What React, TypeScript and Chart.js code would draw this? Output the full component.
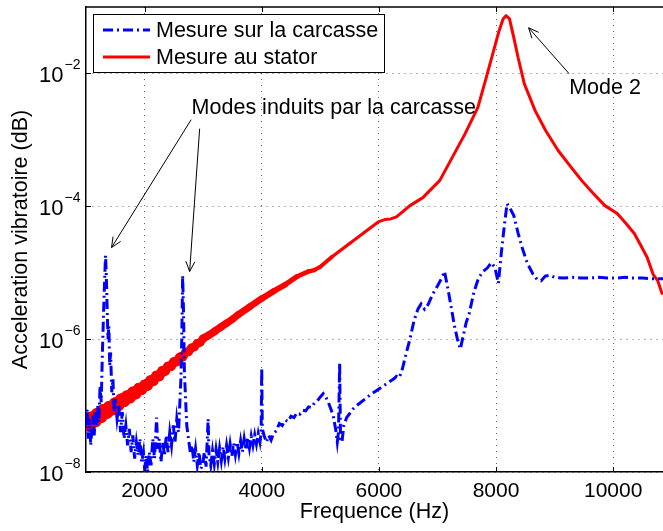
import React, { useEffect, useRef } from "react";
import { Chart, registerables } from "chart.js";

Chart.register(...registerables);

const FONT = "'Liberation Sans', Arial, Helvetica, sans-serif";

// ---- Data (values stored as log10 of the acceleration) ----
const statorFreq = [
  1000, 1050, 1100, 1150, 1200, 1250, 1300, 1350, 1400, 1450, 1500, 1550, 1600, 1650, 1700, 1750, 1800, 1850,
  1900, 1950, 2000, 2050, 2100, 2150, 2200, 2250, 2300, 2350, 2400, 2450, 2500, 2550, 2600, 2650, 2700, 2750,
  2800, 2850, 2900, 2950, 3000, 3100, 3200, 3300, 3400, 3500, 3600, 3800, 4000, 4200, 4400, 4600,
  4800, 4900, 5000, 5200, 5500, 5800, 6000, 6100, 6200, 6300, 6530, 6750, 7040, 7255, 7470, 7690, 7830, 7942,
  8051, 8120, 8170, 8230, 8303, 8376, 8484, 8667, 8846, 9060, 9280, 9460, 9641, 9858, 10068, 10219, 10360,
  10472, 10580, 10684, 10760, 10832,
];
const statorLog = [
  -7.26, -7.28, -7.2, -7.22, -7.14, -7.16, -7.08, -7.1, -7.03, -7.05, -6.97, -6.99, -6.91, -6.93, -6.86, -6.88,
  -6.8, -6.82, -6.74, -6.76, -6.69, -6.7, -6.62, -6.63, -6.55, -6.56, -6.48, -6.48, -6.41, -6.41, -6.34, -6.34,
  -6.27, -6.27, -6.2, -6.19, -6.13, -6.12, -6.06, -6.05, -5.99, -5.94, -5.88, -5.82, -5.76, -5.7,
  -5.63, -5.51, -5.39, -5.28, -5.18, -5.06, -4.98, -4.96, -4.91, -4.76, -4.56, -4.36, -4.23, -4.2, -4.19, -4.16,
  -3.99, -3.87, -3.61, -3.26, -2.91, -2.51, -2.07, -1.71, -1.36, -1.18, -1.13, -1.18, -1.46, -1.76, -2.16, -2.56,
  -2.86, -3.16, -3.41, -3.61, -3.79, -3.99, -4.11, -4.26, -4.41, -4.59, -4.77, -5.03, -5.12, -5.31,
];

const carcasseFreq = [
  1000, 1020, 1040, 1060, 1080, 1100, 1120, 1140, 1160, 1180, 1200, 1220, 1240, 1260, 1280, 1300, 1315, 1333,
  1345, 1360, 1375, 1390, 1405, 1420, 1440, 1460, 1480, 1500, 1530, 1560, 1590, 1620, 1650, 1680, 1710, 1740,
  1770, 1800, 1830, 1860, 1890, 1920, 1950, 1980, 2000, 2030, 2050, 2080, 2110, 2140, 2170, 2205, 2225, 2250,
  2280, 2310, 2340, 2370, 2400, 2430, 2460, 2490, 2520, 2550, 2580, 2600, 2620, 2635, 2650, 2665, 2680, 2700,
  2720, 2750, 2780, 2810, 2840, 2870, 2900, 2930, 2960, 2990, 3020, 3050, 3085, 3100, 3130, 3160, 3190, 3220,
  3250, 3280, 3310, 3340, 3370, 3400, 3430, 3460, 3490, 3520, 3550, 3580, 3610, 3640, 3670, 3700, 3730, 3760,
  3790, 3820, 3850, 3880, 3910, 3940, 3970, 3990, 4000, 4010, 4040, 4080, 4120, 4160, 4200, 4250, 4300, 4350,
  4400, 4450, 4500, 4550, 4600, 4650, 4700, 4750, 4800, 4850, 4900, 4950, 5000, 5050, 5100, 5150, 5220, 5270,
  5290, 5310, 5330, 5345, 5370, 5400, 5450, 5500, 5560, 5650, 5750, 5850, 5950, 6050, 6150, 6250, 6300, 6350,
  6400, 6470, 6530, 6600, 6670, 6720, 6780, 6840, 6920, 7000, 7060, 7120, 7180, 7230, 7290, 7340, 7390, 7440,
  7490, 7540, 7620, 7700, 7780, 7850, 7920, 7980, 8040, 8090, 8140, 8188, 8250, 8303, 8375, 8445, 8530, 8629,
  8700, 8770, 8840, 8918, 9000, 9150, 9300, 9450, 9600, 9750, 9900, 10050, 10200, 10350, 10500, 10650, 10850,
];
const carcasseLog = [
  -7.3, -7.05, -7.5, -7.2, -7.6, -7.35, -7.15, -7.45, -7.1, -7.3, -7.0, -7.25, -6.7, -6.95, -6.2, -5.6, -5.2, -4.74,
  -5.0, -5.5, -6.0, -5.8, -6.4, -6.2, -6.8, -6.6, -7.1, -6.9, -7.2, -7.0, -7.4, -7.1, -7.5, -7.3, -7.6, -7.35,
  -7.7, -7.45, -7.8, -7.55, -7.75, -7.5, -7.85, -7.7, -7.95, -7.75, -8.0, -7.7, -7.9, -7.5, -7.8, -7.18, -7.65, -7.5,
  -7.85, -7.55, -7.75, -7.45, -7.7, -7.4, -7.6, -7.3, -7.55, -7.2, -7.4, -7.0, -6.6, -6.0, -5.04, -5.6, -6.5, -6.9,
  -7.3, -7.5, -7.7, -7.6, -7.85, -7.65, -7.9, -7.7, -7.95, -7.9, -7.7, -7.92, -7.2, -7.75, -7.9, -7.68, -7.88, -7.66,
  -7.85, -7.64, -7.83, -7.62, -7.8, -7.6, -7.78, -7.58, -7.76, -7.56, -7.74, -7.55, -7.72, -7.53, -7.7, -7.5, -7.67, -7.48,
  -7.64, -7.46, -7.6, -7.44, -7.58, -7.42, -7.55, -7.4, -6.43, -7.35, -7.45, -7.55, -7.45, -7.52, -7.42, -7.38, -7.27, -7.3,
  -7.22, -7.24, -7.16, -7.18, -7.11, -7.13, -7.07, -7.08, -7.02, -7.03, -6.96, -6.93, -6.87, -6.82, -6.88, -6.98, -7.15, -7.4,
  -7.55, -7.4, -6.36, -7.5, -7.55, -7.3, -7.18, -7.12, -7.05, -6.98, -6.91, -6.84, -6.78, -6.72, -6.66, -6.6, -6.56, -6.58,
  -6.45, -6.2, -6.0, -5.72, -5.54, -5.47, -5.55, -5.48, -5.32, -5.2, -5.1, -4.98, -5.25, -5.5, -5.8, -6.0, -6.15, -5.95,
  -5.75, -5.62, -5.3, -5.08, -4.98, -4.93, -4.85, -4.92, -5.16, -4.7, -4.3, -3.96, -4.05, -4.14, -4.4, -4.62, -4.85, -5.02,
  -5.1, -5.12, -5.05, -5.04, -5.07, -5.08, -5.07, -5.08, -5.08, -5.07, -5.08, -5.08, -5.07, -5.08, -5.08, -5.09, -5.09,
];

const seriesNames = ["Mesure sur la carcasse", "Mesure au stator"];
const seriesColors = ["#0000ff", "#ff0000"];
const xTicks = [2000, 4000, 6000, 8000, 10000];
const yTicks = [1e-8, 1e-6, 1e-4, 1e-2];
const yTickExponents = ["\u22128", "\u22126", "\u22124", "\u22122"];
const xRange = [1000, 10850];
const yRange = [1e-8, 1e-1];
const xTitle = "Frequence (Hz)";
const yTitle = "Acceleration vibratoire (dB)";

// noisy-band thickness of the stator trace (style): frequency -> stroke width
const statorBandFreq = [1000, 2000, 3000, 4000, 5000, 5500];
const statorBandWidth = [15, 10.5, 8, 6.5, 4, 3];

// annotations in data coordinates (frequency, log10 value)
const annotationTexts = ["Modes induits par la carcasse", "Mode 2"];
const annotationPos = [
  [2803, -2.516],
  [9248, -2.215],
];
const arrowTails = [
  [2795, -2.696],
  [2940, -2.832],
  [9248, -2.005],
];
const arrowHeads = [
  [1436, -4.621],
  [2769, -4.982],
  [8556, -1.313],
];

const DASH_DOT = [10, 4, 2, 4];

function bandWidthAt(f: number) {
  if (f <= statorBandFreq[0]) return statorBandWidth[0];
  for (let i = 1; i < statorBandFreq.length; i++) {
    if (f <= statorBandFreq[i]) {
      const t = (f - statorBandFreq[i - 1]) / (statorBandFreq[i] - statorBandFreq[i - 1]);
      return statorBandWidth[i - 1] + t * (statorBandWidth[i] - statorBandWidth[i - 1]);
    }
  }
  return statorBandWidth[statorBandWidth.length - 1];
}

const overlayPlugin = {
  id: "overlay",
  afterDraw(chart: any) {
    const ctx = chart.ctx as CanvasRenderingContext2D;
    const xs = chart.scales.x;
    const ys = chart.scales.y;
    const area = chart.chartArea;
    ctx.save();

    // top border
    ctx.strokeStyle = "#000";
    ctx.lineWidth = 1.5;
    ctx.setLineDash([]);
    ctx.beginPath();
    ctx.moveTo(area.left, area.top);
    ctx.lineTo(area.right, area.top);
    ctx.stroke();

    // inner tick marks
    ctx.lineWidth = 1;
    ctx.beginPath();
    xTicks.forEach((v) => {
      const px = Math.round(xs.getPixelForValue(v)) + 0.5;
      ctx.moveTo(px, area.bottom);
      ctx.lineTo(px, area.bottom - 5);
      ctx.moveTo(px, area.top);
      ctx.lineTo(px, area.top + 5);
    });
    yTicks.forEach((v) => {
      const py = Math.round(ys.getPixelForValue(v)) + 0.5;
      ctx.moveTo(area.left, py);
      ctx.lineTo(area.left + 5, py);
    });
    ctx.stroke();

    // y tick labels 10^n
    ctx.fillStyle = "#000";
    yTicks.forEach((v, i) => {
      const py = ys.getPixelForValue(v);
      ctx.font = `22px ${FONT}`;
      ctx.textAlign = "right";
      ctx.textBaseline = "alphabetic";
      ctx.fillText("10", 63.5, py + 9);
      ctx.font = `14px ${FONT}`;
      ctx.textAlign = "left";
      ctx.fillText(yTickExponents[i], 64.5, py - 4);
    });

    // annotations
    ctx.font = `21.5px ${FONT}`;
    ctx.textAlign = "left";
    ctx.textBaseline = "middle";
    annotationTexts.forEach((t, i) => {
      const px = xs.getPixelForValue(annotationPos[i][0]);
      const py = ys.getPixelForValue(Math.pow(10, annotationPos[i][1]));
      ctx.fillText(t, px, py);
    });

    // arrows
    ctx.strokeStyle = "#000";
    ctx.lineWidth = 1;
    arrowTails.forEach((tail, i) => {
      const x1 = xs.getPixelForValue(tail[0]);
      const y1 = ys.getPixelForValue(Math.pow(10, tail[1]));
      const x2 = xs.getPixelForValue(arrowHeads[i][0]);
      const y2 = ys.getPixelForValue(Math.pow(10, arrowHeads[i][1]));
      const ang = Math.atan2(y2 - y1, x2 - x1);
      const L = 11;
      const a = 0.42;
      ctx.beginPath();
      ctx.moveTo(x1, y1);
      ctx.lineTo(x2, y2);
      ctx.moveTo(x2 - L * Math.cos(ang - a), y2 - L * Math.sin(ang - a));
      ctx.lineTo(x2, y2);
      ctx.lineTo(x2 - L * Math.cos(ang + a), y2 - L * Math.sin(ang + a));
      ctx.stroke();
    });

    // legend box
    const lx = 93.5, ly = 14.5, lw = 291, lh = 58;
    ctx.fillStyle = "#fff";
    ctx.fillRect(lx, ly, lw, lh);
    ctx.strokeStyle = "#000";
    ctx.lineWidth = 1;
    ctx.strokeRect(lx, ly, lw, lh);
    const rows = [30, 57];
    seriesNames.forEach((name, i) => {
      ctx.strokeStyle = seriesColors[i];
      ctx.lineWidth = 3;
      ctx.setLineDash(i === 0 ? DASH_DOT : []);
      ctx.beginPath();
      ctx.moveTo(103, rows[i]);
      ctx.lineTo(150, rows[i]);
      ctx.stroke();
      ctx.setLineDash([]);
      ctx.fillStyle = "#000";
      ctx.font = `21.5px ${FONT}`;
      ctx.textAlign = "left";
      ctx.textBaseline = "middle";
      ctx.fillText(name, 156, rows[i] + 1);
    });

    ctx.restore();
  },
};

export default function App() {
  const ref = useRef<HTMLCanvasElement | null>(null);

  useEffect(() => {
    const canvas = ref.current;
    if (!canvas) return;
    const carcasse = carcasseFreq.map((f, i) => ({ x: f, y: Math.pow(10, carcasseLog[i]) }));
    const stator = statorFreq.map((f, i) => ({ x: f, y: Math.pow(10, statorLog[i]) }));

    const chart = new Chart(canvas, {
      type: "line",
      data: {
        datasets: [
          {
            label: seriesNames[0],
            data: carcasse,
            borderColor: seriesColors[0],
            backgroundColor: seriesColors[0],
            borderWidth: 3,
            borderDash: DASH_DOT,
            pointRadius: 0,
            tension: 0,
            fill: false,
          },
          {
            label: seriesNames[1],
            data: stator,
            borderColor: seriesColors[1],
            backgroundColor: seriesColors[1],
            borderWidth: 3,
            borderCapStyle: "round",
            borderJoinStyle: "round",
            pointRadius: 0,
            tension: 0,
            fill: false,
            segment: {
              borderWidth: (c: any) => bandWidthAt((c.p0.parsed.x + c.p1.parsed.x) / 2),
            },
          },
        ],
      },
      options: {
        animation: false,
        responsive: false,
        maintainAspectRatio: false,
        layout: { padding: { top: 7, right: 0, left: 0, bottom: 0 } },
        plugins: { legend: { display: false }, tooltip: { enabled: false } },
        scales: {
          x: {
            type: "linear",
            min: xRange[0],
            max: xRange[1],
            afterBuildTicks: (s: any) => {
              s.ticks = xTicks.map((v) => ({ value: v }));
            },
            afterFit: (s: any) => {
              s.height = 59;
            },
            grid: { color: "rgba(0,0,0,0.6)", lineWidth: 1, drawTicks: false },
            border: { display: true, color: "#000", width: 1.5, dash: [1, 5] },
            ticks: {
              color: "#000",
              font: { family: FONT, size: 21 },
              padding: 7,
              maxRotation: 0,
              autoSkip: false,
              callback: (v: any) => String(v),
            },
            title: {
              display: true,
              text: xTitle,
              color: "#000",
              font: { family: FONT, size: 21.5 },
              padding: { top: 0, bottom: 6 },
            },
          },
          y: {
            type: "logarithmic",
            min: yRange[0],
            max: yRange[1],
            afterBuildTicks: (s: any) => {
              s.ticks = yTicks.map((v) => ({ value: v }));
            },
            afterFit: (s: any) => {
              s.width = 86;
            },
            grid: { color: "rgba(0,0,0,0.6)", lineWidth: 1, drawTicks: false },
            border: { display: true, color: "#000", width: 1.5, dash: [1, 5] },
            ticks: { display: false },
            title: {
              display: true,
              text: yTitle,
              color: "#000",
              font: { family: FONT, size: 21.5 },
              padding: { top: 8, bottom: 0 },
            },
          },
        },
      },
      plugins: [overlayPlugin],
    });
    return () => chart.destroy();
  }, []);

  return (
    <div style={{ position: "fixed", left: 0, top: 0, width: 663, height: 531, background: "#fff" }}>
      <canvas ref={ref} width={663} height={531} style={{ display: "block", width: 663, height: 531 }} />
    </div>
  );
}
